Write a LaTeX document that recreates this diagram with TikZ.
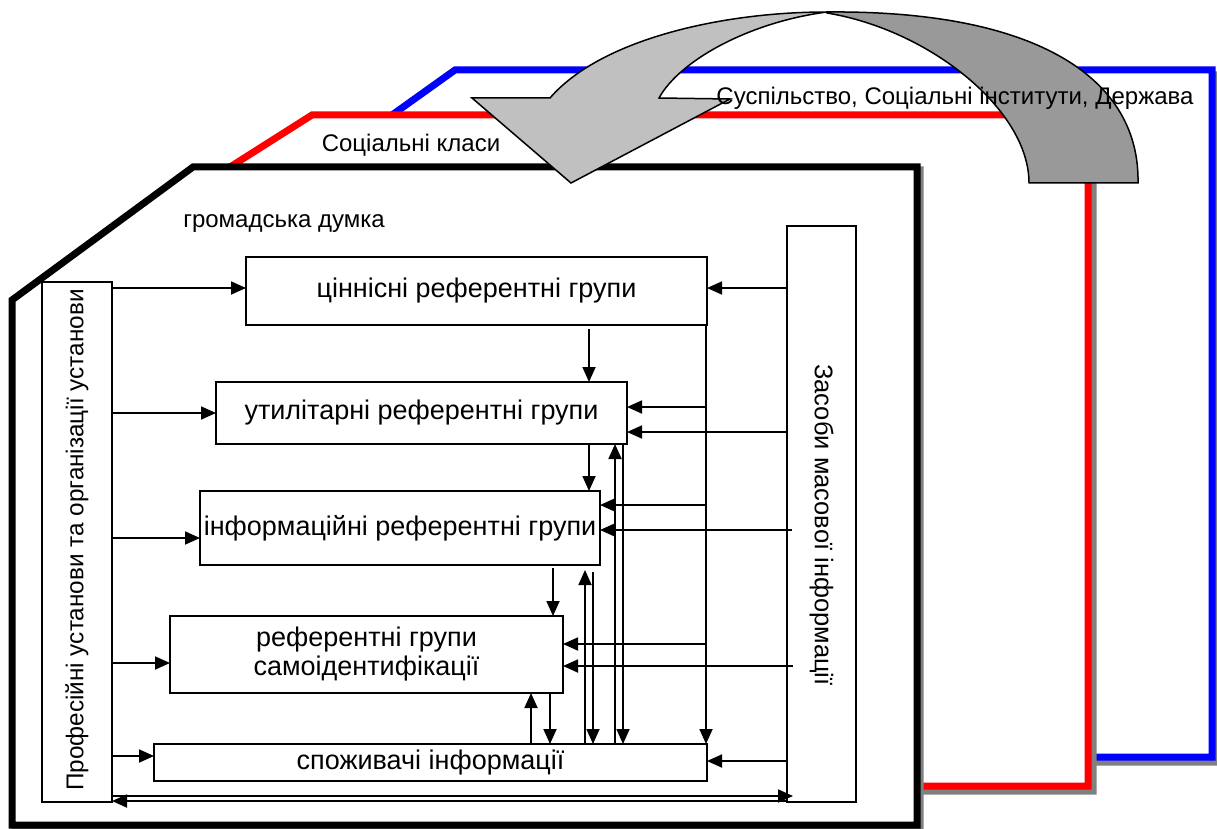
\documentclass[tikz,border=0pt]{standalone}
\usepackage{fontspec}
\setmainfont{Liberation Sans}
\usetikzlibrary{arrows.meta,calc}
\definecolor{lgray}{HTML}{C0C0C0}
\definecolor{dgray}{HTML}{999999}
\definecolor{shad}{HTML}{808080}
\begin{document}
\begin{tikzpicture}[x=1pt,y=-1pt,
 frame/.style={line width=7pt, fill=white},
 shadowline/.style={line width=7pt, draw=shad},
 box/.style={draw, line width=2pt, fill=white, inner sep=0pt, outer sep=0pt, font=\fontsize{27}{29}\selectfont, align=center},
 arr/.style={line width=1.8pt, -{Triangle[length=15pt,width=13pt]}},
 lbl/.style={font=\fontsize{24}{29}\selectfont, inner sep=0pt},
 vlbl/.style={font=\fontsize{25.5}{29}\selectfont, inner sep=0pt},
 blockarrow/.style={draw=black, line width=1.5pt}
]
\useasboundingbox (0,0) rectangle (1217,829);
% blue frame
\draw[shadowline] (397,120) -- (460,75) -- (1218,75) -- (1218,762) -- (397,762) -- cycle;
\draw[frame, draw=blue] (392,115) -- (455,70) -- (1212,70) -- (1212,757) -- (392,757) -- cycle;
% red frame
\draw[shadowline] (235,172) -- (317,120) -- (1093,120) -- (1093,791) -- (235,791) -- cycle;
\draw[frame, draw=red] (230,167) -- (312,115) -- (1088,115) -- (1088,786) -- (230,786) -- cycle;
% black frame
\draw[shadowline] (15,303) -- (196,170) -- (920,170) -- (920,828) -- (15,828) -- cycle;
\draw[frame, draw=black] (12,300) -- (193,167) -- (917,167) -- (917,825) -- (12,825) -- cycle;
% curved block arrow
\draw[blockarrow, fill=dgray] (827,12) .. controls (1040,10) and (1140,80) .. (1138,183) -- (1029,183) .. controls (1029,110) and (930,30) .. (827,13) -- cycle;
\draw[blockarrow, fill=lgray] (472,98) -- (550,98) .. controls (600,40) and (720,12) .. (827,12) .. controls (750,22) and (680,60) .. (659,98) -- (730,99) -- (571,183) -- cycle;
% labels
\node[lbl] (soc) at (955,98) {Суспільство, Соціальні інститути, Держава};
\node[lbl] (cls) at (411,145) {Соціальні класи};
\node[lbl] (opin) at (284,224) {громадська думка};
% side boxes
\node[box, minimum width=70pt, minimum height=520pt] (L) at (77,542) {};
\node[vlbl, font=\fontsize{24.3}{29}\selectfont, rotate=90] (Lt) at (77,540) {Професійні установи та організації установи};
\node[box, minimum width=69pt, minimum height=576pt] (R) at (821.5,514) {};
\node[vlbl, rotate=-90] (Rt) at (821.5,525) {Засоби масової інформації};
% inner boxes
\node[box, minimum width=461pt, minimum height=68pt] (B1) at (476.5,291) {ціннісні референтні групи};
\node[box, minimum width=411pt, minimum height=62pt] (B2) at (421.5,413) {утилітарні референтні групи};
\node[box, minimum width=400pt, minimum height=74pt] (B3) at (400,528) {інформаційні референтні групи};
\node[box, minimum width=393pt, minimum height=77pt] (B4) at (366.5,654.5) {референтні групи\\самоідентифікації};
\node[box, minimum width=553pt, minimum height=37pt] (B5) at (430.5,762.5) {споживачі інформації};
% left arrows
\draw[arr] ($(L.east |- B1.west)+(0,-3)$) -- ($(B1.west)+(0,-3)$);
\draw[arr] (L.east |- B2.west) -- (B2.west);
\draw[arr] ($(L.east |- B3.west)+(0,10)$) -- ($(B3.west)+(0,10)$);
\draw[arr] ($(L.east |- B4.west)+(0,8.5)$) -- ($(B4.west)+(0,8.5)$);
\draw[arr] ($(L.east |- B5.west)+(0,-6.5)$) -- ($(B5.west)+(0,-6.5)$);
% right arrows
\coordinate (v1) at ($(B1.south east)+(-1,0)$);
\draw[arr] ($(R.west |- B1.east)+(0,-3)$) -- ($(B1.east)+(0,-3)$);
\draw[arr] (v1) -- (v1 |- B5.north);
\draw[arr] ($(v1 |- B2.east)+(0,-6)$) -- ($(B2.east)+(0,-6)$);
\draw[arr] ($(R.west |- B2.east)+(0,19)$) -- ($(B2.east)+(0,19)$);
\draw[arr] ($(v1 |- B3.east)+(0,-23)$) -- ($(B3.east)+(0,-23)$);
\draw[arr] ($(R.west |- B3.east)+(5,2)$) -- ($(B3.east)+(0,2)$);
\draw[arr] ($(v1 |- B4.east)+(0,-10.5)$) -- ($(B4.east)+(0,-10.5)$);
\draw[arr] ($(R.west |- B4.east)+(6,11.5)$) -- ($(B4.east)+(0,11.5)$);
\draw[arr] ($(R.west |- B5.east)+(0,-1.5)$) -- ($(B5.east)+(0,-1.5)$);
% vertical arrows
\coordinate (a1) at ($(B1.south)+(112.5,4)$);
\draw[arr] (a1) -- (a1 |- B2.north);
\coordinate (a2) at ($(B2.south)+(167.5,0)$);
\draw[arr] (a2) -- (a2 |- B3.north);
\coordinate (a3) at ($(B3.south)+(153,3)$);
\draw[arr] (a3) -- (a3 |- B4.north);
\coordinate (a4) at ($(B4.south)+(183.5,0)$);
\draw[arr] (a4) -- (a4 |- B5.north);
\coordinate (a5) at ($(B4.south)+(164.5,0)$);
\draw[arr] (a5 |- B5.north) -- (a5);
\coordinate (a6) at ($(B3.south)+(185,5)$);
\draw[arr] (a6 |- B5.north) -- (a6);
\coordinate (a7) at ($(B3.south)+(193,7)$);
\draw[arr] (a7) -- (a7 |- B5.north);
\coordinate (a8) at ($(B2.south)+(193.5,0)$);
\draw[arr] (a8 |- B5.north) -- (a8);
\coordinate (a9) at ($(B2.south)+(201.5,0)$);
\draw[arr] (a9) -- (a9 |- B5.north);
% bottom double arrow
\draw[arr] ($(L.south east)+(0,-6)$) -- ($(R.south west)+(6,-6)$);
\draw[arr] ($(R.south west)+(0,-1)$) -- ($(L.south east)+(0,-1)$);
\end{tikzpicture}
\end{document}
